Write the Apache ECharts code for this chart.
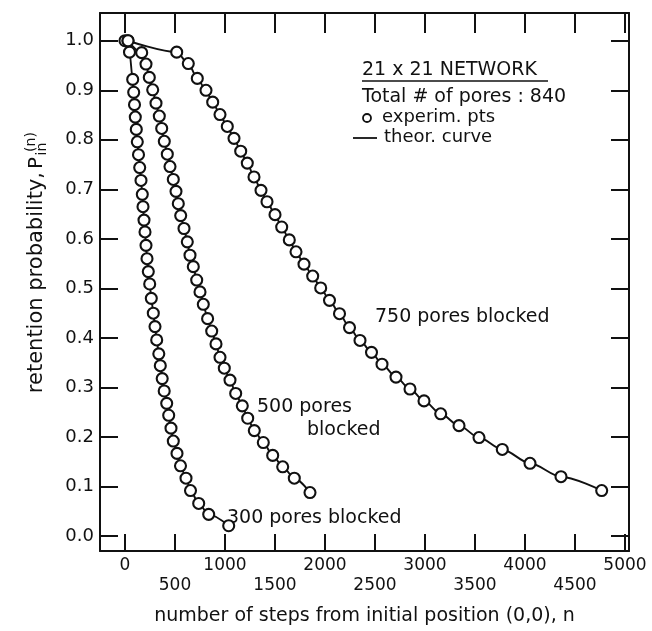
<!DOCTYPE html>
<html>
<head>
<meta charset="utf-8">
<script src="https://cdn.jsdelivr.net/npm/echarts@6/dist/echarts.min.js"></script>
<style>
html,body{margin:0;padding:0;background:#fff;}
#c{width:652px;height:631px;}
</style>
</head>
<body>
<div id="c"></div>
<script>
// ---- data ----
const xTicks = [0, 500, 1000, 1500, 2000, 2500, 3000, 3500, 4000, 4500, 5000];
const yTicks = [0.0, 0.1, 0.2, 0.3, 0.4, 0.5, 0.6, 0.7, 0.8, 0.9, 1.0];

const n300 = [0,45,77,87,95,103,113,123,135,147,160,173,180,190,200,210,220,233,247,263,283,300,317,338,353,372,392,417,437,460,483,520,555,610,655,737,837,1037];
const p300 = [1.0,0.977,0.922,0.896,0.871,0.846,0.821,0.796,0.770,0.744,0.718,0.690,0.665,0.638,0.614,0.587,0.560,0.534,0.509,0.480,0.450,0.423,0.396,0.368,0.344,0.318,0.293,0.268,0.244,0.218,0.192,0.167,0.142,0.117,0.092,0.066,0.044,0.021];

const n500 = [30,167,210,243,277,310,343,367,393,423,450,483,510,533,557,590,623,650,683,717,750,783,826,867,910,950,993,1050,1107,1173,1227,1293,1383,1477,1577,1693,1850];
const p500 = [1.0,0.976,0.953,0.926,0.901,0.874,0.848,0.823,0.797,0.771,0.746,0.720,0.696,0.671,0.647,0.621,0.594,0.567,0.544,0.517,0.493,0.468,0.439,0.414,0.388,0.361,0.339,0.315,0.288,0.263,0.238,0.213,0.189,0.163,0.140,0.117,0.088];

const n750 = [30,517,633,723,810,877,950,1023,1090,1157,1223,1290,1360,1420,1500,1567,1643,1710,1790,1877,1957,2045,2145,2245,2350,2465,2570,2710,2850,2990,3157,3340,3540,3773,4050,4360,4767];
const p750 = [1.0,0.977,0.954,0.924,0.900,0.876,0.851,0.827,0.803,0.777,0.753,0.725,0.698,0.675,0.649,0.624,0.598,0.574,0.549,0.525,0.501,0.476,0.449,0.421,0.395,0.371,0.347,0.321,0.297,0.273,0.247,0.223,0.199,0.175,0.147,0.120,0.092];

const seriesNames = ['300 pores blocked', '500 pores blocked', '750 pores blocked'];

// ---- chart ----
const FONT = '"DejaVu Sans", "Liberation Sans", sans-serif';
const INK = '#111';
const zip = (a, b) => a.map((v, i) => [v, b[i]]);

function curve(name, xs, ys) {
  return {
    name: name,
    type: 'line',
    xAxisIndex: 0, yAxisIndex: 0,
    data: zip(xs, ys),
    smooth: 0.3,
    smoothMonotone: 'x',
    symbol: 'circle',
    symbolSize: 11,
    itemStyle: { color: '#fff', borderColor: INK, borderWidth: 2.1 },
    lineStyle: { color: INK, width: 1.9 },
    emphasis: { disabled: true },
    silent: true,
    z: 3
  };
}

const chart = echarts.init(document.getElementById('c'), null, { renderer: 'canvas' });

const axisLineStyle = { color: INK, width: 2 };
const tickStyle = { color: INK, width: 2 };

const option = {
  animation: false,
  backgroundColor: '#fff',
  grid: { left: 100, right: 23, top: 13, bottom: 73, containLabel: false },
  xAxis: [
    {
      type: 'value', position: 'bottom', min: -250, max: 5040,
      axisLine: { show: true, onZero: false, lineStyle: axisLineStyle },
      axisTick: { show: true, inside: true, length: 17, lineStyle: tickStyle, customValues: xTicks },
      axisLabel: {
        customValues: xTicks,
        fontFamily: FONT, fontSize: 17, color: INK, margin: 5, lineHeight: 20,
        formatter: v => (Math.round(v / 500) % 2 === 1 ? '\n' + v : String(v))
      },
      splitLine: { show: false },
      name: 'number of steps from initial position (0,0), n',
      nameLocation: 'middle', nameGap: 56,
      nameTextStyle: { fontFamily: FONT, fontSize: 19, color: INK }
    },
    {
      type: 'value', position: 'top', min: -250, max: 5040,
      axisLine: { show: true, onZero: false, lineStyle: axisLineStyle },
      axisTick: { show: true, inside: true, length: 20, lineStyle: tickStyle, customValues: xTicks },
      axisLabel: { show: false },
      splitLine: { show: false }
    }
  ],
  yAxis: [
    {
      type: 'value', position: 'left', min: -0.03, max: 1.056,
      axisLine: { show: true, onZero: false, lineStyle: axisLineStyle },
      axisTick: { show: true, inside: true, length: 18, lineStyle: tickStyle, customValues: yTicks },
      axisLabel: {
        customValues: yTicks,
        fontFamily: FONT, fontSize: 18, color: INK, margin: 6,
        formatter: v => v.toFixed(1)
      },
      splitLine: { show: false }
    },
    {
      type: 'value', position: 'right', min: -0.03, max: 1.056,
      axisLine: { show: true, onZero: false, lineStyle: axisLineStyle },
      axisTick: { show: true, inside: true, length: 18, lineStyle: tickStyle, customValues: yTicks },
      axisLabel: { show: false },
      splitLine: { show: false }
    }
  ],
  series: [
    curve(seriesNames[0], n300, p300),
    curve(seriesNames[1], n500, p500),
    curve(seriesNames[2], n750, p750)
  ],
  graphic: [
    // y-axis title with P_in^(n)
    {
      type: 'group', x: 37, y: 163, rotation: Math.PI / 2, silent: true,
      children: [
        { type: 'text', x: -9, y: 0, style: { text: 'retention probability,', font: '21px ' + FONT, fill: INK, textAlign: 'right', textVerticalAlign: 'middle' } },
        { type: 'text', x: 0, y: 0, style: { text: 'P', font: '20px ' + FONT, fill: INK, textAlign: 'center', textVerticalAlign: 'middle' } },
        { type: 'text', x: 14, y: 5, style: { text: 'in', font: '14px ' + FONT, fill: INK, textAlign: 'center', textVerticalAlign: 'middle' } },
        { type: 'text', x: 21, y: -6, style: { text: '(n)', font: '14px ' + FONT, fill: INK, textAlign: 'center', textVerticalAlign: 'middle' } }
      ]
    },
    // legend block
    { type: 'text', x: 362, y: 70, silent: true, style: { text: '21 x 21 NETWORK', font: '19px ' + FONT, fill: INK, textVerticalAlign: 'middle' } },
    { type: 'line', silent: true, shape: { x1: 362, y1: 81, x2: 548, y2: 81 }, style: { stroke: INK, lineWidth: 1.6 } },
    { type: 'text', x: 362, y: 97, silent: true, style: { text: 'Total # of pores : 840', font: '19px ' + FONT, fill: INK, textVerticalAlign: 'middle' } },
    { type: 'circle', silent: true, shape: { cx: 367, cy: 118, r: 4 }, style: { fill: '#fff', stroke: INK, lineWidth: 1.8 } },
    { type: 'text', x: 382, y: 117, silent: true, style: { text: 'experim. pts', font: '18px ' + FONT, fill: INK, textVerticalAlign: 'middle' } },
    { type: 'line', silent: true, shape: { x1: 353, y1: 138, x2: 377, y2: 138 }, style: { stroke: INK, lineWidth: 1.8 } },
    { type: 'text', x: 384, y: 137, silent: true, style: { text: 'theor. curve', font: '18px ' + FONT, fill: INK, textVerticalAlign: 'middle' } },
    // curve annotations
    { type: 'text', x: 375, y: 317, silent: true, style: { text: '750 pores blocked', font: '19px ' + FONT, fill: INK, textVerticalAlign: 'middle' } },
    { type: 'text', x: 257, y: 407, silent: true, style: { text: '500 pores', font: '19px ' + FONT, fill: INK, textVerticalAlign: 'middle' } },
    { type: 'text', x: 307, y: 430, silent: true, style: { text: 'blocked', font: '19px ' + FONT, fill: INK, textVerticalAlign: 'middle' } },
    { type: 'text', x: 227, y: 518, silent: true, style: { text: '300 pores blocked', font: '19px ' + FONT, fill: INK, textVerticalAlign: 'middle' } }
  ]
};

chart.setOption(option);
</script>
</body>
</html>
